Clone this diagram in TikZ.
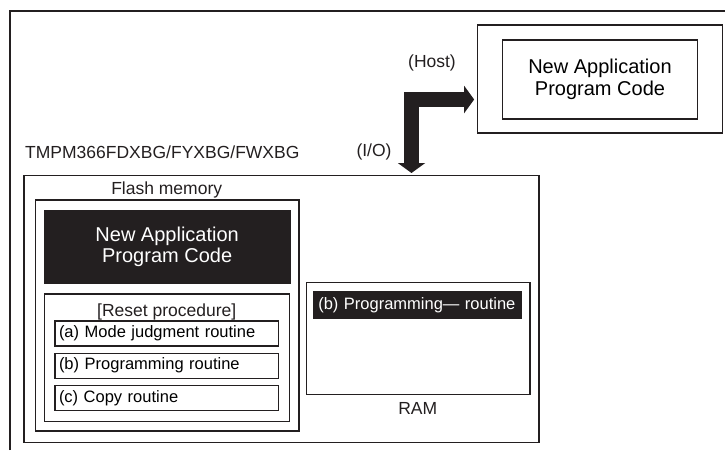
\documentclass[tikz,border=0pt]{standalone}
\usepackage{fontspec}
\setmainfont{Liberation Sans}
\usetikzlibrary{arrows.meta, positioning}

\definecolor{ink}{RGB}{35,31,32}

\begin{document}
\begin{tikzpicture}[
            x = 1pt, y = -1pt,
            node distance = 6pt,
            memarea/.style = {
                rectangle,
                draw        = ink,
                line width  = 1.2pt,
                inner sep   = 0pt
            },
            codebox/.style = {
                memarea,
                align = center,
                font  = \fontsize{20}{21.5}\selectfont
            },
            darkcode/.style = {
                codebox,
                fill = ink,
                text = white
            },
            routine/.style = {
                memarea,
                text width     = 215.3pt,
                inner xsep     = 4pt,
                minimum height = 25pt,
                align          = left,
                font           = \fontsize{16.5}{18}\selectfont
            },
            caption/.style = {
                text      = ink,
                inner sep = 0pt,
                font      = \fontsize{17.5}{19}\selectfont
            },
            hostlink/.style = {
                draw       = ink,
                line width = 15pt,
                {Triangle[length=10pt, width=27pt]}-{Triangle[length=10pt, width=27pt]},
                shorten <= 2.4pt,
                shorten >= 1.9pt
            }
        ]

            \useasboundingbox (0,0) rectangle (725,450);

            % surrounding frame, cut off by the page
            \draw[ink, line width=1.2pt] (10,450) |- (725,11);

            % host side
            \node[memarea, minimum width=245.7pt, minimum height=108pt]  (host)     at (600,79)   {};
            \node[codebox, line width=1.8pt, minimum width=195pt, minimum height=79pt]
                                                                        (hostcode) at (600,79.5) {New Application\\Program Code};
            \node[caption]                                              (hostlbl)  at (432,63)   {(Host)};

            % device side
            \node[memarea, minimum width=515pt, minimum height=266.8pt]  (chip)     at (281.5,308.9) {};
            \node[caption, anchor=west]                                 (chiplbl)  at (25,152)      {TMPM366FDXBG/FYXBG/FWXBG};
            \node[caption]                                              (iolbl)    at (374,152)     {(I/O)};

            \node[memarea, minimum width=263.3pt, minimum height=231pt]  (flash)    at (167.35,315.5) {};
            \node[caption]                                              (flashlbl) at (166.7,190)    {Flash memory};
            \node[darkcode, minimum width=245.7pt, minimum height=72.3pt]
                                                                        (flashcode) at (167.15,246.85) {New Application\\Program Code};

            \node[memarea, minimum width=245pt, minimum height=127.7pt]  (reset)    at (166.8,357.85) {};
            \node[caption]                                              (resetlbl) at (166.7,311.7)  {[Reset procedure]};
            \node[routine]                        (modejudge) at (166.65,333.5) {(a) Mode judgment routine};
            \node[routine, below = of modejudge]  (progrom)   {(b) Programming routine};
            \node[routine, below = of progrom]    (copyrom)   {(c) Copy routine};

            \node[memarea, minimum width=223.3pt, minimum height=111.6pt] (ram)     at (418.35,338.5) {};
            \node[routine, fill=ink, text=white, text width=198.4pt, inner xsep=5pt, minimum height=26.6pt]
                                                                        (program)  at (417.5,305)    {(b) Programming— routine};
            \node[caption]                                              (ramlbl)   at (417.7,408.3)  {RAM};

            % transfer between host and device
            \draw[hostlink] ([yshift=-20.5pt]host.west) -| ([xshift=130pt]chip.north);
        \end{tikzpicture}
\end{document}
